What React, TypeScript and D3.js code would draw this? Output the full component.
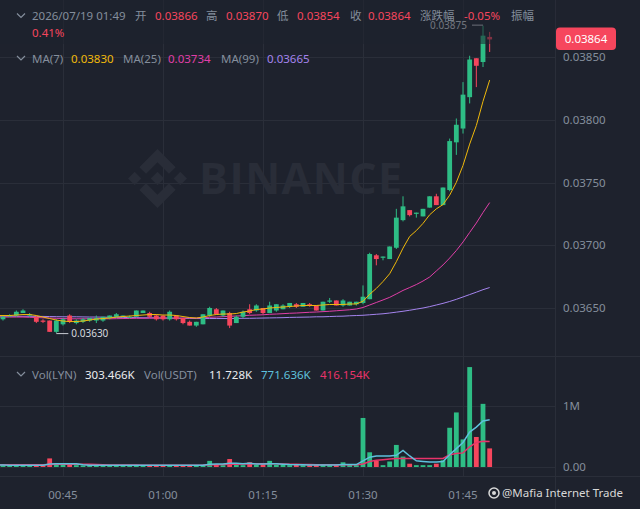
import React from "react";
import * as d3 from "d3";

const W = 640;
const H = 509;

const startTime = "2026-07-19T00:35";

const opens = [
  0.03643, 0.03641, 0.03644, 0.03644, 0.03646, 0.03644, 0.03643, 0.0364, 0.0364, 0.03631,
  0.03637, 0.03644, 0.03638, 0.03639, 0.0364, 0.0364, 0.0364, 0.03642, 0.03643, 0.03643,
  0.03643, 0.03643, 0.03646, 0.03646, 0.03644, 0.03644, 0.03641, 0.03644, 0.03642, 0.03639,
  0.03636, 0.03637, 0.03644, 0.03649, 0.03644, 0.03646, 0.03638, 0.03643, 0.03649, 0.03648,
  0.0365, 0.03646, 0.03648, 0.03649, 0.03651, 0.03653, 0.03651, 0.03653, 0.03652, 0.03648,
  0.03655, 0.03656, 0.03652, 0.03652, 0.03653, 0.03654, 0.03657, 0.03692, 0.0369, 0.03689,
  0.03698, 0.0372, 0.03728, 0.03725, 0.03723, 0.0373, 0.03739, 0.03732, 0.03744, 0.03782,
  0.03793, 0.03818, 0.03849, 0.03846, 0.03866,
];
const highs = [
  0.03645, 0.03644, 0.03645, 0.03648, 0.03649, 0.03646, 0.03644, 0.03641, 0.0364, 0.03641,
  0.03642, 0.03645, 0.03641, 0.03642, 0.03642, 0.03644, 0.03643, 0.03644, 0.03646, 0.03644,
  0.03644, 0.03648, 0.03648, 0.03647, 0.03645, 0.03644, 0.03648, 0.03644, 0.03642, 0.0364,
  0.03639, 0.03645, 0.03651, 0.0365, 0.03648, 0.03647, 0.03644, 0.03648, 0.03653, 0.03653,
  0.0365, 0.03655, 0.03653, 0.03653, 0.03654, 0.03654, 0.03654, 0.03654, 0.03652, 0.03655,
  0.03658, 0.03656, 0.03657, 0.03655, 0.03655, 0.03668, 0.03694, 0.03693, 0.03691, 0.03699,
  0.03729, 0.03739, 0.03728, 0.03726, 0.03729, 0.03739, 0.03741, 0.03746, 0.03785, 0.03801,
  0.0383, 0.03851, 0.03849, 0.03875, 0.0387,
];
const lows = [
  0.03641, 0.0364, 0.03643, 0.03643, 0.03646, 0.03643, 0.03638, 0.03638, 0.03631, 0.0363,
  0.03636, 0.03638, 0.03637, 0.03638, 0.03639, 0.03638, 0.03639, 0.03641, 0.03642, 0.03642,
  0.03642, 0.03643, 0.03646, 0.03642, 0.0364, 0.0364, 0.0364, 0.0364, 0.03637, 0.03636,
  0.03635, 0.03637, 0.03643, 0.03645, 0.03643, 0.03634, 0.03638, 0.03642, 0.03645, 0.03647,
  0.03645, 0.03646, 0.03647, 0.03649, 0.0365, 0.0365, 0.03651, 0.03651, 0.03648, 0.03648,
  0.03654, 0.03652, 0.03651, 0.03652, 0.03652, 0.03653, 0.03657, 0.03684, 0.03688, 0.03689,
  0.03697, 0.03719, 0.03723, 0.03722, 0.03723, 0.0373, 0.03732, 0.03732, 0.03743, 0.03772,
  0.03789, 0.03813, 0.03826, 0.03842, 0.03854,
];
const closes = [
  0.03642, 0.03643, 0.03644, 0.03647, 0.03648, 0.03645, 0.03639, 0.03639, 0.03631, 0.0364,
  0.03641, 0.03639, 0.0364, 0.03641, 0.03642, 0.03642, 0.03643, 0.03644, 0.03645, 0.03644,
  0.03643, 0.03648, 0.03648, 0.03643, 0.03641, 0.03641, 0.03647, 0.03641, 0.03638, 0.03636,
  0.03639, 0.03645, 0.0365, 0.03645, 0.03648, 0.03636, 0.03643, 0.03647, 0.03646, 0.03652,
  0.03646, 0.03652, 0.03653, 0.03652, 0.03654, 0.03651, 0.03654, 0.03652, 0.03648, 0.03655,
  0.03656, 0.03652, 0.03656, 0.03655, 0.03655, 0.03659, 0.03693, 0.03689, 0.03691, 0.03699,
  0.03722, 0.03731, 0.03724, 0.03726, 0.03729, 0.03739, 0.03732, 0.03746, 0.03783, 0.03796,
  0.0382, 0.03848, 0.03843, 0.03867, 0.03864,
];
const volumes = [
  35000, 30000, 25000, 35000, 30000, 25000, 35000, 30000, 140000, 50000,
  35000, 35000, 30000, 25000, 30000, 25000, 30000, 30000, 25000, 25000,
  25000, 30000, 25000, 25000, 30000, 25000, 30000, 30000, 25000, 30000,
  30000, 35000, 100000, 35000, 30000, 130000, 35000, 30000, 77000, 35000,
  40000, 100000, 35000, 35000, 30000, 35000, 30000, 30000, 40000, 35000,
  30000, 30000, 77000, 35000, 30000, 800000, 240000, 100000, 30000, 90000,
  360000, 170000, 54000, 30000, 30000, 30000, 54000, 110000, 640000, 890000,
  450000, 1630000, 490000, 1030000, 303466,
];
const ma7 = [
  0.03644, 0.03644, 0.03644, 0.036444, 0.036448, 0.036448, 0.03644, 0.036428, 0.036416, 0.036404,
  0.036396, 0.036392, 0.036392, 0.036396, 0.036404, 0.036412, 0.036416, 0.03642, 0.036428, 0.036432,
  0.036436, 0.03644, 0.036444, 0.036448, 0.036448, 0.036444, 0.036444, 0.03644, 0.036432, 0.036424,
  0.03642, 0.036428, 0.03644, 0.036448, 0.036452, 0.036452, 0.036456, 0.036468, 0.036476, 0.036488,
  0.036492, 0.0365, 0.036504, 0.036508, 0.036512, 0.036516, 0.03652, 0.03652, 0.03652, 0.036524,
  0.036528, 0.036528, 0.036528, 0.036532, 0.036532, 0.036554, 0.036609, 0.036656, 0.036711, 0.036773,
  0.036869, 0.036977, 0.03707, 0.037117, 0.037174, 0.037243, 0.03729, 0.037324, 0.037399, 0.037501,
  0.037636, 0.037806, 0.037954, 0.038147, 0.038316,
];
const ma25 = [
  0.036428, 0.036428, 0.036428, 0.036428, 0.036428, 0.036426, 0.036424, 0.036422, 0.03642, 0.036418,
  0.036416, 0.036414, 0.036414, 0.036414, 0.036414, 0.036414, 0.036414, 0.036414, 0.036415, 0.036416,
  0.036417, 0.036418, 0.036418, 0.036419, 0.03642, 0.03642, 0.03642, 0.03642, 0.03642, 0.03642,
  0.03642, 0.036422, 0.036426, 0.036428, 0.036431, 0.036434, 0.036436, 0.036439, 0.036442, 0.036444,
  0.036446, 0.03645, 0.036452, 0.036455, 0.036458, 0.03646, 0.036463, 0.036466, 0.036468, 0.036471,
  0.036474, 0.036478, 0.036482, 0.036486, 0.036492, 0.036504, 0.036524, 0.036544, 0.036564, 0.036585,
  0.036612, 0.03664, 0.036663, 0.036687, 0.036715, 0.036747, 0.036795, 0.036843, 0.036898, 0.036958,
  0.037026, 0.037102, 0.037177, 0.037261, 0.03734,
];
const ma99 = [
  0.036436, 0.036435, 0.036435, 0.036434, 0.036434, 0.036434, 0.036433, 0.036433, 0.036432, 0.036431,
  0.03643, 0.03643, 0.03643, 0.036429, 0.036428, 0.036428, 0.036427, 0.036426, 0.036426, 0.036425,
  0.036424, 0.036423, 0.036422, 0.036422, 0.036421, 0.03642, 0.036419, 0.036418, 0.036418, 0.036417,
  0.036416, 0.036416, 0.036416, 0.036416, 0.036416, 0.036416, 0.036417, 0.036418, 0.036418, 0.036419,
  0.03642, 0.036421, 0.036422, 0.036423, 0.036425, 0.036426, 0.036427, 0.036428, 0.03643, 0.03643,
  0.036432, 0.036434, 0.036435, 0.036438, 0.03644, 0.036442, 0.036446, 0.03645, 0.036454, 0.03646,
  0.036467, 0.036474, 0.036482, 0.036491, 0.0365, 0.036511, 0.036524, 0.036537, 0.036552, 0.036569,
  0.036588, 0.036607, 0.036626, 0.036646, 0.036663,
];
const volMa5 = [
  35000, 33000, 30000, 30000, 28000, 28000, 30000, 30000, 50000, 55000,
  55000, 55000, 52000, 35000, 30000, 28000, 28000, 28000, 27000, 27000,
  27000, 27000, 27000, 27000, 28000, 28000, 28000, 28000, 28000, 28000,
  28000, 30000, 45000, 48000, 50000, 60000, 60000, 55000, 62000, 50000,
  50000, 55000, 52000, 45000, 40000, 38000, 35000, 32000, 32000, 32000,
  32000, 32000, 40000, 40000, 40000, 100000, 160000, 180000, 180000, 180000,
  190000, 270000, 180000, 100000, 90000, 80000, 80000, 90000, 200000, 300000,
  400000, 570000, 650000, 750000, 771636,
];
const volMa10 = [
  38000, 38000, 38000, 37000, 37000, 37000, 36000, 36000, 42000, 44000,
  45000, 46000, 46000, 45000, 44000, 40000, 36000, 33000, 32000, 32000,
  31000, 31000, 30000, 30000, 30000, 30000, 30000, 30000, 30000, 30000,
  30000, 31000, 36000, 38000, 40000, 45000, 46000, 48000, 50000, 52000,
  52000, 54000, 52000, 50000, 46000, 44000, 42000, 40000, 38000, 36000,
  35000, 35000, 36000, 36000, 36000, 50000, 90000, 110000, 120000, 130000,
  140000, 140000, 140000, 140000, 140000, 140000, 140000, 140000, 200000, 220000,
  230000, 330000, 400000, 420000, 416154,
];

const timeTicks = ["00:45", "01:00", "01:15", "01:30", "01:45"];
const priceTicks = [0.0365, 0.037, 0.0375, 0.038, 0.0385];
const volTicks = [0, 1000000];
const volTickLabels = ["0.00", "1M"];

const BG = "#1e222d";
const GRID = "#2a2e39";
const UP = "#2ebd85";
const DOWN = "#f6465d";
const GREY = "#848e9c";
const C_MA7 = "#f0b90b";
const C_MA25 = "#e03fa8";
const C_MA99 = "#a584ee";
const C_VMA5 = "#5ec1dc";
const C_VMA10 = "#e8336a";
const WM = "#292d38";
const FONT = "'Noto Sans', 'Noto Sans CJK SC', sans-serif";

export default function App() {
  const parse = d3.timeParse("%Y-%m-%dT%H:%M");
  const t0 = parse(startTime) as Date;
  const dates = closes.map((_, i) => d3.timeMinute.offset(t0, i));
  const x = d3
    .scaleTime()
    .domain([dates[0], dates[dates.length - 1]])
    .range([-3.67, 489.67]);
  const y = d3.scaleLinear().domain([0.0365, 0.0385]).range([308, 57]);
  const yv = d3.scaleLinear().domain([0, 1000000]).range([467, 405.7]);

  const RIGHT = 555.5;
  const MAIN_BOTTOM = 356.5;
  const VOL_BOTTOM = 476.5;
  const bw = 4.8;

  const priceLine = (arr: number[]) =>
    d3
      .line<number>()
      .x((_, i) => x(dates[i]))
      .y((d) => y(d))(arr) || "";
  const volLine = (arr: number[]) =>
    d3
      .line<number>()
      .x((_, i) => x(dates[i]))
      .y((d) => yv(d))(arr) || "";

  const hiIdx = d3.maxIndex(highs);
  const loIdx = d3.minIndex(lows);
  const tickDates = timeTicks.map((t) => parse("2026-07-19T" + t) as Date);
  const fmtTime = d3.timeFormat("%H:%M");

  const fs = 11.5;

  const chevron = (cy: number) => (
    <polyline
      points={`17,${cy - 2.5} 21,${cy + 1.5} 25,${cy - 2.5}`}
      fill="none"
      stroke={GREY}
      strokeWidth={1.2}
    />
  );

  return (
    <svg
      width={W}
      height={H}
      style={{ position: "fixed", left: 0, top: 0, display: "block" }}
      fontFamily={FONT}
    >
      <defs>
        <clipPath id="mainClip">
          <rect x={0} y={0} width={RIGHT} height={MAIN_BOTTOM} />
        </clipPath>
        <clipPath id="volClip">
          <rect x={0} y={MAIN_BOTTOM} width={RIGHT} height={VOL_BOTTOM - MAIN_BOTTOM} />
        </clipPath>
      </defs>
      <rect x={0} y={0} width={W} height={H} fill={BG} />

      {/* grid */}
      {tickDates.map((d, i) => (
        <line key={"vg" + i} x1={Math.round(x(d)) + 0.5} x2={Math.round(x(d)) + 0.5} y1={0} y2={VOL_BOTTOM} stroke={GRID} strokeWidth={1} />
      ))}
      {priceTicks.map((p, i) => (
        <line key={"hg" + i} x1={0} x2={RIGHT} y1={Math.round(y(p)) + 0.5} y2={Math.round(y(p)) + 0.5} stroke={GRID} strokeWidth={1} />
      ))}
      {volTicks.map((v, i) => (
        <line key={"vhg" + i} x1={0} x2={RIGHT} y1={Math.round(yv(v)) + 0.5} y2={Math.round(yv(v)) + 0.5} stroke={GRID} strokeWidth={1} />
      ))}
      <line x1={0} x2={W} y1={MAIN_BOTTOM} y2={MAIN_BOTTOM} stroke={GRID} />
      <line x1={0} x2={W} y1={VOL_BOTTOM} y2={VOL_BOTTOM} stroke={GRID} />
      <line x1={RIGHT} x2={RIGHT} y1={0} y2={H} stroke={GRID} />

      {/* watermark */}
      <g transform="translate(128,149) scale(0.466)" fill={WM}>
        <path d="M38.73 53.2 L63.3 28.63 L87.9 53.22 L102.2 38.92 L63.3 0 L24.42 38.9 Z" />
        <path d="M0 63.31 L14.3 49 L28.6 63.31 L14.3 77.61 Z" />
        <path d="M38.73 73.41 L63.3 97.98 L87.9 73.4 L102.2 87.69 L63.3 126.61 L24.42 87.72 Z" />
        <path d="M98 63.31 L112.3 49 L126.6 63.31 L112.3 77.61 Z" />
        <path d="M77.83 63.3 L63.3 48.76 L48.77 63.3 L63.3 77.83 Z" />
      </g>
      <text x={199} y={194} fontSize={43} fontWeight={700} fill={WM} letterSpacing={1.5} fontFamily="'Open Sans', 'Noto Sans', sans-serif">
        BINANCE
      </text>

      {/* price pane */}
      <g clipPath="url(#mainClip)">
        <path d={priceLine(ma99)} fill="none" stroke={C_MA99} strokeWidth={1} />
        <path d={priceLine(ma25)} fill="none" stroke={C_MA25} strokeWidth={1} />
        {dates.map((d, i) => {
          const cx = x(d);
          const up = closes[i] >= opens[i];
          const col = up ? UP : DOWN;
          const yt = y(Math.max(opens[i], closes[i]));
          const yb = y(Math.min(opens[i], closes[i]));
          return (
            <g key={"c" + i}>
              <line x1={cx} x2={cx} y1={y(highs[i])} y2={y(lows[i])} stroke={col} strokeWidth={1} />
              <rect x={cx - bw / 2} y={yt} width={bw} height={Math.max(1, yb - yt)} fill={col} />
            </g>
          );
        })}
        <path d={priceLine(ma7)} fill="none" stroke={C_MA7} strokeWidth={1} />

        {/* low marker */}
        <line x1={x(dates[loIdx])} x2={x(dates[loIdx]) + 12} y1={y(lows[loIdx]) + 0.5} y2={y(lows[loIdx]) + 0.5} stroke="#c9ccd3" strokeWidth={1} />
        <text x={x(dates[loIdx]) + 15} y={y(lows[loIdx]) + 4} fontSize={10} fill="#d5d8de">
          {lows[loIdx].toFixed(5)}
        </text>
        {/* high marker */}
        <line x1={x(dates[hiIdx]) - 11} x2={x(dates[hiIdx])} y1={y(highs[hiIdx]) - 0.5} y2={y(highs[hiIdx]) - 0.5} stroke="#c9ccd3" strokeWidth={1} />
        <text x={x(dates[hiIdx]) - 16} y={y(highs[hiIdx]) + 3.5} fontSize={10} fill="#d5d8de" textAnchor="end">
          {highs[hiIdx].toFixed(5)}
        </text>
        <rect x={0} y={0} width={RIGHT} height={44} fill={BG} opacity={0.55} />
      </g>

      {/* volume pane */}
      <g clipPath="url(#volClip)">
        {dates.map((d, i) => {
          const cx = x(d);
          const up = closes[i] >= opens[i];
          const top = yv(volumes[i]);
          return <rect key={"v" + i} x={cx - bw / 2} y={top} width={bw} height={yv(0) - top} fill={up ? UP : DOWN} />;
        })}
        <path d={volLine(volMa10)} fill="none" stroke={C_VMA10} strokeWidth={1.5} />
        <path d={volLine(volMa5)} fill="none" stroke={C_VMA5} strokeWidth={1.5} />
      </g>

      {/* price axis */}
      {priceTicks.map((p, i) => (
        <text key={"pt" + i} x={563} y={y(p) + 4} fontSize={fs} fill={GREY}>
          {p.toFixed(5)}
        </text>
      ))}
      {volTicks.map((v, i) => (
        <text key={"vt" + i} x={563} y={yv(v) + 4} fontSize={fs} fill={GREY}>
          {volTickLabels[i]}
        </text>
      ))}
      <rect x={556} y={27.5} width={60} height={22.5} rx={4} fill={DOWN} />
      <text x={586} y={43} fontSize={fs} fill="#ffffff" textAnchor="middle">
        {closes[closes.length - 1].toFixed(5)}
      </text>

      {/* time axis */}
      {tickDates.map((d, i) => (
        <text key={"tt" + i} x={x(d)} y={499} fontSize={fs} fill={GREY} textAnchor="middle">
          {fmtTime(d)}
        </text>
      ))}

      {/* header legend */}
      {chevron(16)}
      <g fontSize={fs}>
        <text x={32} y={20} fill={GREY}>2026/07/19 01:49</text>
        <text x={135} y={20} fill={GREY}>开</text>
        <text x={155} y={20} fill={DOWN}>0.03866</text>
        <text x={206} y={20} fill={GREY}>高</text>
        <text x={226} y={20} fill={DOWN}>0.03870</text>
        <text x={277} y={20} fill={GREY}>低</text>
        <text x={297} y={20} fill={DOWN}>0.03854</text>
        <text x={350} y={20} fill={GREY}>收</text>
        <text x={368} y={20} fill={DOWN}>0.03864</text>
        <text x={420} y={20} fill={GREY}>涨跌幅</text>
        <text x={464} y={20} fill={DOWN}>-0.05%</text>
        <text x={511} y={20} fill={GREY}>振幅</text>
        <text x={32} y={37} fill={DOWN}>0.41%</text>
      </g>

      {chevron(58.5)}
      <g fontSize={fs}>
        <text x={32} y={62.5} fill={GREY}>MA(7)</text>
        <text x={71} y={62.5} fill={C_MA7}>0.03830</text>
        <text x={123} y={62.5} fill={GREY}>MA(25)</text>
        <text x={168} y={62.5} fill={C_MA25}>0.03734</text>
        <text x={221} y={62.5} fill={GREY}>MA(99)</text>
        <text x={267} y={62.5} fill={C_MA99}>0.03665</text>
      </g>

      {chevron(374.5)}
      <g fontSize={fs}>
        <text x={32} y={379} fill={GREY}>Vol(LYN)</text>
        <text x={85} y={379} fill="#eaecef">303.466K</text>
        <text x={144} y={379} fill={GREY}>Vol(USDT)</text>
        <text x={209} y={379} fill="#eaecef">11.728K</text>
        <text x={261} y={379} fill={C_VMA5}>771.636K</text>
        <text x={320} y={379} fill={C_VMA10}>416.154K</text>
      </g>

      {/* bottom-right watermark */}
      <circle cx={494} cy={493} r={5} fill="none" stroke="#d8d8d8" strokeWidth={1.5} />
      <circle cx={494} cy={493} r={2} fill="#d8d8d8" />
      <text x={502} y={497} fontSize={11.5} fill="#d8d8d8">@Mafia Internet Trade</text>
    </svg>
  );
}
